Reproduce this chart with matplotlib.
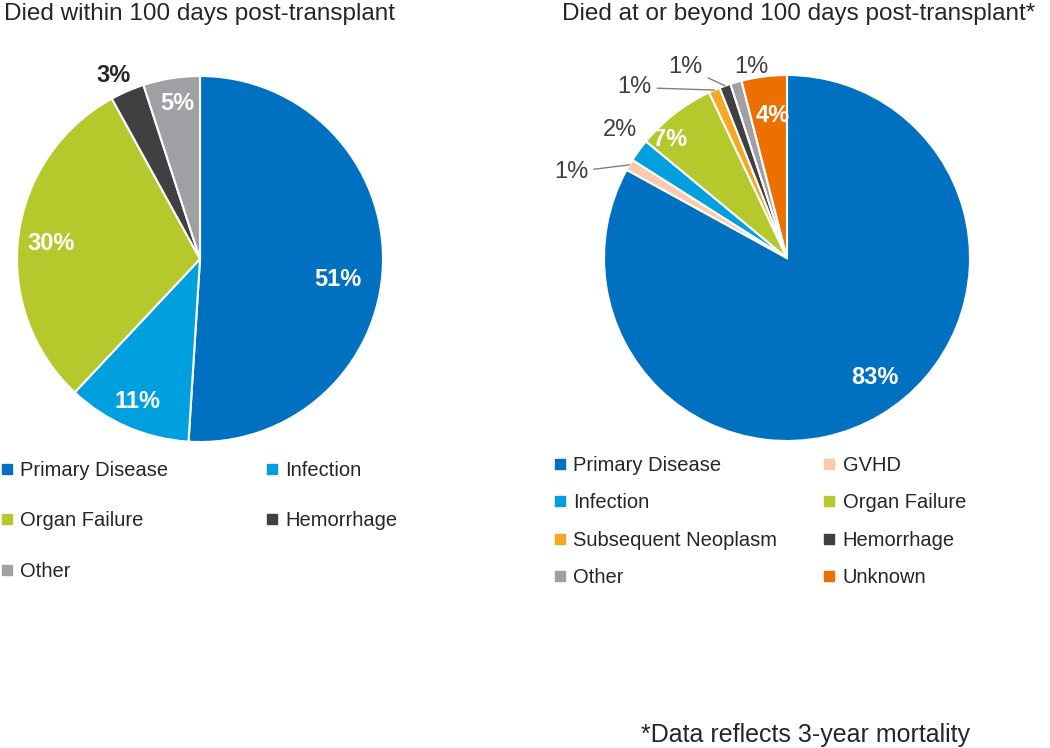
import numpy as np
import matplotlib
matplotlib.use('Agg')
import matplotlib.pyplot as plt
from matplotlib.lines import Line2D

plt.rcParams['font.family'] = ['Liberation Sans', 'DejaVu Sans']

# data
left_title = 'Died within 100 days post-transplant'
left_labels = ['Primary Disease', 'Infection', 'Organ Failure', 'Hemorrhage', 'Other']
left_values = [51, 11, 30, 3, 5]

right_title = 'Died at or beyond 100 days post-transplant*'
right_labels = ['Primary Disease', 'GVHD', 'Infection', 'Organ Failure',
                'Subsequent Neoplasm', 'Hemorrhage', 'Other', 'Unknown']
right_values = [83, 1, 2, 7, 1, 1, 1, 4]

footnote = '*Data reflects 3-year mortality'

# styles
colors = {'Primary Disease': '#0070c0', 'Infection': '#00a0df', 'Organ Failure': '#b5c82c',
          'Hemorrhage': '#404042', 'Other': '#a0a0a4', 'GVHD': '#f8cbad',
          'Subsequent Neoplasm': '#f6a823', 'Unknown': '#ec7000'}
# label placement: radius and angle nudge (deg) from the wedge middle
left_lab_r = [0.76, 0.85, 0.82, 1.11, 0.86]
left_lab_nudge = [-6.8, -0.4, 1.1, 1.9, -0.6]
left_inside = [True, True, True, False, True]
right_lab_r = [0.81, 1.27, 1.15, 0.91, 1.25, 1.18, 1.06, 0.785]
right_lab_nudge = [5.7, 8.9, -1.5, 7.0, 18.4, 8.2, -5.5, -1.6]
right_inside = [True, False, False, True, False, False, False, True]
right_leader = [False, True, False, False, True, True, False, False]

W, H = 1050, 748
fig = plt.figure(figsize=(W / 100, H / 100), dpi=100)


def draw_pie(cx, cy, rad, labels, values, lab_r, nudge, inside, leader, outside_bold):
    ax = fig.add_axes([(cx - rad) / W, (H - cy - rad) / H, 2 * rad / W, 2 * rad / H])
    wedges, _ = ax.pie(values, colors=[colors[l] for l in labels], startangle=90,
                       counterclock=False, radius=1,
                       wedgeprops=dict(edgecolor='white', linewidth=1.5))
    ax.set_xlim(-1, 1)
    ax.set_ylim(-1, 1)
    ax.set_aspect('equal')
    ax.axis('off')
    for i, w in enumerate(wedges):
        mid = (w.theta1 + w.theta2) / 2
        ang = np.deg2rad(mid + nudge[i])
        x, y = lab_r[i] * np.cos(ang), lab_r[i] * np.sin(ang)
        txt = f'{values[i]}%'
        if inside[i]:
            ax.text(x, y, txt, ha='center', va='center', color='white',
                    fontsize=17, fontweight='bold')
        elif leader[i]:
            m = np.deg2rad(mid)
            ax.annotate(txt, xy=(np.cos(m), np.sin(m)), xytext=(x, y),
                        ha='center', va='center', fontsize=17, color='#404040',
                        arrowprops=dict(arrowstyle='-', color='#808080', lw=1,
                                        shrinkA=2, shrinkB=0))
        else:
            ax.text(x, y, txt, ha='center', va='center',
                    color='#262626' if outside_bold else '#404040', fontsize=17,
                    fontweight='bold' if outside_bold else 'normal')
    return ax


draw_pie(200, 259, 183, left_labels, left_values, left_lab_r, left_lab_nudge,
         left_inside, [False] * 5, True)
draw_pie(787, 258, 183, right_labels, right_values, right_lab_r, right_lab_nudge,
         right_inside, right_leader, False)

fig.text(200 / W, 1 - 14 / H, left_title, ha='center', va='center', fontsize=17.5, color='#262626')
fig.text(799 / W, 1 - 14 / H, right_title, ha='center', va='center', fontsize=17.5, color='#262626')


def add_legend(labels, x, y, spacing, colspacing):
    # legend fills columns first, so reorder to read row by row
    order = labels[0::2] + labels[1::2]
    handles = [Line2D([], [], marker='s', ls='none', color=colors[l], markersize=6.5)
               for l in order]
    fig.legend(handles, order, loc='upper left', bbox_to_anchor=(x / W, 1 - y / H),
               ncol=2, frameon=False, fontsize=14.5, handlelength=0.6,
               handletextpad=0.35, labelspacing=spacing, columnspacing=colspacing,
               borderpad=0, borderaxespad=0, labelcolor='#262626')


add_legend(left_labels, 1, 461, 1.56, 4.85)
add_legend(right_labels, 554, 456, 0.91, 2.3)

fig.text(970 / W, 1 - 735 / H, footnote, ha='right', va='center', fontsize=18, color='#262626')

fig.savefig('out.png', dpi=100)
